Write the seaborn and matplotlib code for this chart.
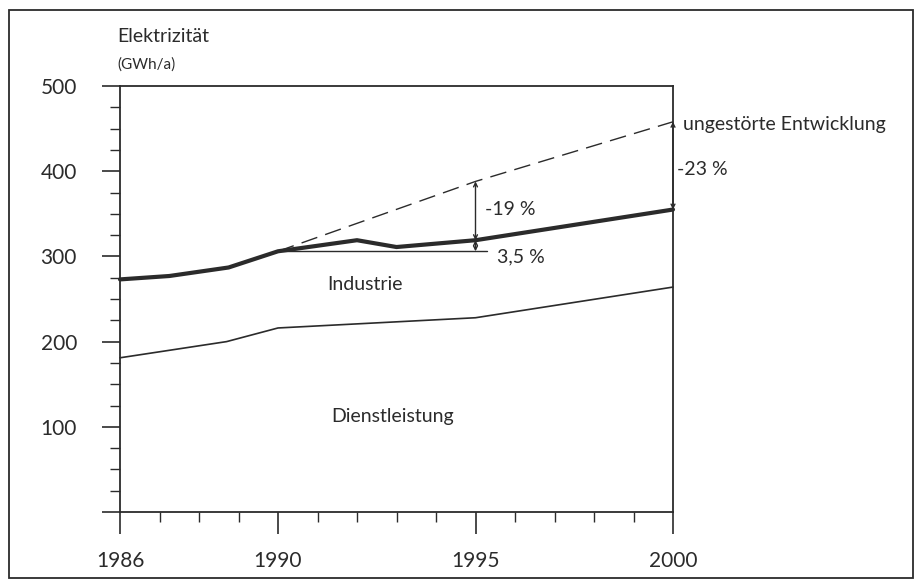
import matplotlib
matplotlib.use("Agg")
import matplotlib.pyplot as plt
import seaborn as sns
import pandas as pd
from matplotlib.ticker import MultipleLocator, FixedLocator
from matplotlib.patches import Rectangle

# ---- data ----
years_total = [1986, 1987.25, 1988.75, 1990, 1992, 1993, 1995, 2000]
total = [273, 277, 287, 306, 319, 311, 319, 355]          # Industrie + Dienstleistung
years_service = [1986, 1988.7, 1990, 1995, 2000]
service = [181, 200, 216, 228, 264]                          # Dienstleistung
years_trend = [1990, 1995, 2000]
trend = [306, 388, 458]                                      # ungestörte Entwicklung
x_major = [1986, 1990, 1995, 2000]
x_labels = ["1986", "1990", "1995", "2000"]
y_major = [0, 100, 200, 300, 400, 500]
y_labels = ["", "100", "200", "300", "400", "500"]

sns.set_style("ticks")
plt.rcParams["font.family"] = ["Lato", "DejaVu Sans"]
INK = "#2b2b2b"

fig = plt.figure(figsize=(9.22, 5.83), dpi=100)
ax = fig.add_axes([120 / 922, 1 - 512 / 583, (673 - 120) / 922, (512 - 86) / 583])

df_total = pd.DataFrame({"Jahr": years_total, "GWh": total})
df_service = pd.DataFrame({"Jahr": years_service, "GWh": service})
df_trend = pd.DataFrame({"Jahr": years_trend, "GWh": trend})

sns.lineplot(data=df_trend, x="Jahr", y="GWh", ax=ax, color=INK, linewidth=1.0,
             dashes=False, linestyle=(0, (12, 6)), clip_on=False)
sns.lineplot(data=df_service, x="Jahr", y="GWh", ax=ax, color=INK, linewidth=1.2, clip_on=False)
sns.lineplot(data=df_total, x="Jahr", y="GWh", ax=ax, color=INK, linewidth=3.0, clip_on=False)

ax.set_xlim(years_total[0], years_total[-1])
ax.set_ylim(y_major[0], y_major[-1])
ax.set_xlabel("")
ax.set_ylabel("")

ax.xaxis.set_major_locator(FixedLocator(x_major))
ax.set_xticklabels(x_labels)
ax.xaxis.set_minor_locator(MultipleLocator(1))
ax.yaxis.set_major_locator(FixedLocator(y_major))
ax.set_yticklabels(y_labels)
ax.yaxis.set_minor_locator(MultipleLocator(25))

ax.tick_params(axis="x", which="major", length=16, width=1.2, pad=12, labelsize=15, color=INK, labelcolor=INK)
ax.tick_params(axis="x", which="minor", length=7, width=1.0, color=INK)
ax.tick_params(axis="y", which="major", length=13, width=1.2, pad=18, labelsize=15, color=INK, labelcolor=INK)
ax.tick_params(axis="y", which="minor", length=7, width=1.0, color=INK)
for s in ax.spines.values():
    s.set_visible(True)
    s.set_linewidth(1.3)
    s.set_color(INK)

# reference line at 1990 level to 1995
v1990 = total[years_total.index(1990)]
v1995 = total[years_total.index(1995)]
v2000 = total[-1]
t1995 = trend[years_trend.index(1995)]
t2000 = trend[-1]
ax.plot([1990, 1995.3], [v1990, v1990], color=INK, lw=1.0)

arrow = dict(arrowstyle="<->", lw=1.0, color=INK, shrinkA=0, shrinkB=0, mutation_scale=7)
ax.annotate("", xy=(1995, v1995), xytext=(1995, t1995), arrowprops=arrow)
ax.annotate("", xy=(1995, v1990), xytext=(1995, v1995), arrowprops=arrow)
ax.annotate("", xy=(2000, v2000), xytext=(2000, t2000), arrowprops=arrow, annotation_clip=False)

fs = 14
ax.text(1992.2, 267, "Industrie", ha="center", va="center", fontsize=fs, color=INK)
ax.text(1992.9, 112, "Dienstleistung", ha="center", va="center", fontsize=fs, color=INK)
ax.text(1995.25, 355, "-19 %", ha="left", va="center", fontsize=fs, color=INK)
ax.text(1995.55, 300, "3,5 %", ha="left", va="center", fontsize=fs, color=INK)
ax.text(2000.1, 402, "-23 %", ha="left", va="center", fontsize=fs, color=INK)
ax.text(2000.25, 455, "ungestörte Entwicklung", ha="left", va="center", fontsize=fs, color=INK)

fig.text(117 / 922, 1 - 37 / 583, "Elektrizität", ha="left", va="center", fontsize=14, color=INK)
fig.text(117 / 922, 1 - 65 / 583, "(GWh/a)", ha="left", va="center", fontsize=11, color=INK)

fig.patches.append(Rectangle((9 / 922, 1 - 578 / 583), (913 - 9) / 922, (578 - 10) / 583,
                             transform=fig.transFigure, fill=False, lw=1.3, edgecolor=INK))

fig.savefig("out.png", dpi=100)
